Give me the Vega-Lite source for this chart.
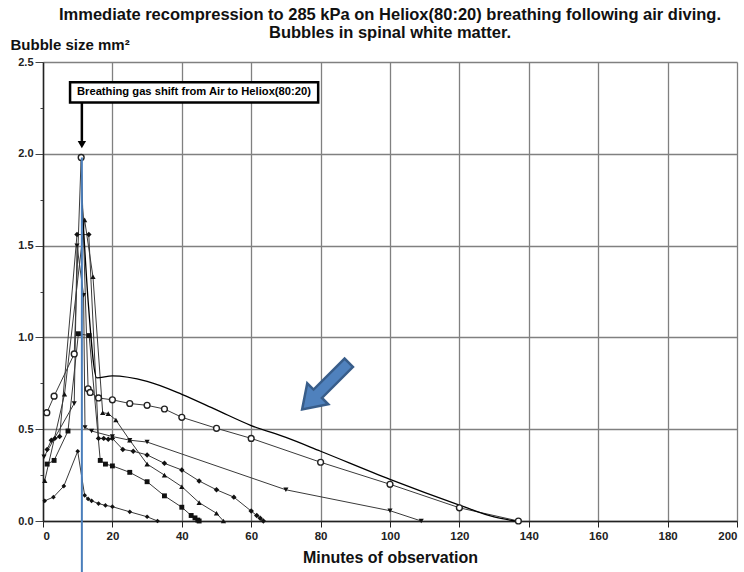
{
  "$schema": "https://vega.github.io/schema/vega-lite/v6.json",
  "width": 694,
  "height": 459,
  "autosize": "none",
  "padding": {"left": 43, "top": 62, "right": 7, "bottom": 51},
  "background": "white",
  "config": {"view": {"stroke": null}, "font": "Liberation Sans"},
  "title": {
    "text": ["Immediate recompression to 285 kPa on Heliox(80:20) breathing following air diving.", "Bubbles in spinal white matter."],
    "font": "Liberation Sans", "fontSize": 16.5, "fontWeight": "bold", "color": "#111",
    "anchor": "middle", "frame": "group", "offset": -4, "lineHeight": 18
  },
  "datasets": {
    "series": [
      {"s": "A", "m": 1.1, "v": 0.59}, {"s": "A", "m": 3.2, "v": 0.68}, {"s": "A", "m": 9, "v": 0.91}, {"s": "A", "m": 11, "v": 1.98},
      {"s": "A", "m": 13, "v": 0.72}, {"s": "A", "m": 13.6, "v": 0.7}, {"s": "A", "m": 16, "v": 0.67}, {"s": "A", "m": 20, "v": 0.66},
      {"s": "A", "m": 25, "v": 0.64}, {"s": "A", "m": 30, "v": 0.63}, {"s": "A", "m": 35, "v": 0.61}, {"s": "A", "m": 40, "v": 0.565},
      {"s": "A", "m": 50, "v": 0.505}, {"s": "A", "m": 60, "v": 0.45}, {"s": "A", "m": 80, "v": 0.32}, {"s": "A", "m": 100, "v": 0.2},
      {"s": "A", "m": 120, "v": 0.072}, {"s": "A", "m": 137, "v": 0},
      {"s": "B", "m": 11.3, "v": 1.72}, {"s": "B", "m": 13, "v": 1.2}, {"s": "B", "m": 15.5, "v": 0.78}, {"s": "B", "m": 20, "v": 0.79},
      {"s": "B", "m": 30, "v": 0.76}, {"s": "B", "m": 40, "v": 0.69}, {"s": "B", "m": 50, "v": 0.605}, {"s": "B", "m": 60, "v": 0.52},
      {"s": "B", "m": 70, "v": 0.455}, {"s": "B", "m": 80, "v": 0.38}, {"s": "B", "m": 100, "v": 0.227}, {"s": "B", "m": 120, "v": 0.087},
      {"s": "B", "m": 130, "v": 0.022}, {"s": "B", "m": 136, "v": 0},
      {"s": "C", "m": 1.2, "v": 0.39}, {"s": "C", "m": 2.4, "v": 0.44}, {"s": "C", "m": 3.4, "v": 0.45}, {"s": "C", "m": 4.8, "v": 0.46},
      {"s": "C", "m": 9.8, "v": 1.56}, {"s": "C", "m": 13.2, "v": 1.56}, {"s": "C", "m": 16, "v": 0.45}, {"s": "C", "m": 17.5, "v": 0.45},
      {"s": "C", "m": 18.8, "v": 0.445}, {"s": "C", "m": 20, "v": 0.45}, {"s": "C", "m": 23, "v": 0.39}, {"s": "C", "m": 26, "v": 0.38},
      {"s": "C", "m": 30, "v": 0.36}, {"s": "C", "m": 35, "v": 0.314}, {"s": "C", "m": 40, "v": 0.278}, {"s": "C", "m": 45, "v": 0.218},
      {"s": "C", "m": 50, "v": 0.17}, {"s": "C", "m": 55, "v": 0.13}, {"s": "C", "m": 60, "v": 0.054}, {"s": "C", "m": 61.6, "v": 0.03},
      {"s": "C", "m": 62.6, "v": 0.015}, {"s": "C", "m": 63.5, "v": 0},
      {"s": "T", "m": 0.5, "v": 0.22}, {"s": "T", "m": 6.2, "v": 0.69}, {"s": "T", "m": 12, "v": 1.64}, {"s": "T", "m": 14.4, "v": 1.33},
      {"s": "T", "m": 17.2, "v": 0.59}, {"s": "T", "m": 18.8, "v": 0.585}, {"s": "T", "m": 21, "v": 0.55}, {"s": "T", "m": 25, "v": 0.44},
      {"s": "T", "m": 30, "v": 0.31}, {"s": "T", "m": 35, "v": 0.25}, {"s": "T", "m": 40, "v": 0.187}, {"s": "T", "m": 45, "v": 0.1},
      {"s": "T", "m": 50, "v": 0.042}, {"s": "T", "m": 52, "v": 0},
      {"s": "V", "m": 0.3, "v": 0.35}, {"s": "V", "m": 9, "v": 0.64}, {"s": "V", "m": 9.8, "v": 1.5}, {"s": "V", "m": 11.7, "v": 1.23},
      {"s": "V", "m": 12.1, "v": 0.51}, {"s": "V", "m": 14, "v": 0.49}, {"s": "V", "m": 20, "v": 0.46}, {"s": "V", "m": 25, "v": 0.44},
      {"s": "V", "m": 30, "v": 0.43}, {"s": "V", "m": 70, "v": 0.17}, {"s": "V", "m": 100, "v": 0.056}, {"s": "V", "m": 109, "v": 0},
      {"s": "S", "m": 1.2, "v": 0.31}, {"s": "S", "m": 3.2, "v": 0.33}, {"s": "S", "m": 7.2, "v": 0.49}, {"s": "S", "m": 10.2, "v": 1.02},
      {"s": "S", "m": 13.3, "v": 1.01}, {"s": "S", "m": 16.5, "v": 0.33}, {"s": "S", "m": 18, "v": 0.31}, {"s": "S", "m": 20, "v": 0.3},
      {"s": "S", "m": 25, "v": 0.265}, {"s": "S", "m": 30, "v": 0.214}, {"s": "S", "m": 35, "v": 0.137}, {"s": "S", "m": 40, "v": 0.075},
      {"s": "S", "m": 42.7, "v": 0.03}, {"s": "S", "m": 43.8, "v": 0.017}, {"s": "S", "m": 44.6, "v": 0.005}, {"s": "S", "m": 45, "v": 0},
      {"s": "D", "m": 0.5, "v": 0.11}, {"s": "D", "m": 3, "v": 0.13}, {"s": "D", "m": 6, "v": 0.19}, {"s": "D", "m": 10, "v": 0.38},
      {"s": "D", "m": 12, "v": 0.14}, {"s": "D", "m": 13, "v": 0.12}, {"s": "D", "m": 14, "v": 0.11}, {"s": "D", "m": 16, "v": 0.095},
      {"s": "D", "m": 18, "v": 0.085}, {"s": "D", "m": 20, "v": 0.078}, {"s": "D", "m": 25, "v": 0.05}, {"s": "D", "m": 30, "v": 0.023},
      {"s": "D", "m": 33, "v": 0}
    ]
  },
  "encoding": {
    "x": {
      "field": "m", "type": "quantitative",
      "scale": {"domain": [0, 200], "nice": false, "zero": false},
      "axis": {
        "values": [0, 20, 40, 60, 80, 100, 120, 140, 160, 180, 200],
        "title": "Minutes of observation",
        "grid": true, "gridColor": "#808080", "gridWidth": 1.3,
        "domainColor": "#222", "domainWidth": 1.5, "tickColor": "#222", "tickSize": 6,
        "labelFont": "Liberation Sans", "labelFontSize": 11.5, "labelFontWeight": "bold", "labelColor": "#222", "labelPadding": 3,
        "titleFont": "Liberation Sans", "titleFontSize": 16, "titleFontWeight": "bold", "titleColor": "#111", "titlePadding": 8
      }
    },
    "y": {
      "field": "v", "type": "quantitative",
      "scale": {"domain": [0, 2.5], "nice": false, "zero": false},
      "axis": {
        "values": [0, 0.25, 0.5, 0.75, 1, 1.25, 1.5, 1.75, 2, 2.25, 2.5],
        "labelExpr": "datum.value % 0.5 === 0 ? format(datum.value, '.1f') : ''",
        "grid": true, "gridColor": "#808080", "gridWidth": 1.3,
        "gridOpacity": {"condition": {"test": "datum.value % 0.5 === 0", "value": 1}, "value": 0},
        "tickSize": {"condition": {"test": "datum.value % 0.5 === 0", "value": 8}, "value": 3},
        "domainColor": "#222", "domainWidth": 1.5, "tickColor": "#444",
        "labelFont": "Liberation Sans", "labelFontSize": 11, "labelFontWeight": "bold", "labelColor": "#222", "labelPadding": 2,
        "title": "Bubble size mm²", "titleAngle": 0, "titleAlign": "left", "titleBaseline": "bottom",
        "titleX": -33, "titleY": -10,
        "titleFont": "Liberation Sans", "titleFontSize": 15, "titleFontWeight": "bold", "titleColor": "#111"
      }
    }
  },
  "layer": [
    {
      "data": {"name": "series"},
      "transform": [{"filter": "datum.s !== 'B'"}],
      "mark": {"type": "line", "color": "#3a3a3a", "strokeWidth": 1},
      "encoding": {"detail": {"field": "s"}, "order": {"field": "m", "type": "quantitative"}}
    },
    {
      "data": {"name": "series"},
      "transform": [{"filter": "datum.s === 'B'"}],
      "mark": {"type": "line", "color": "#000", "strokeWidth": 1.3, "interpolate": "monotone"},
      "encoding": {"order": {"field": "m", "type": "quantitative"}}
    },
    {
      "data": {"name": "series"},
      "transform": [{"filter": "datum.s !== 'A' && datum.s !== 'B'"}],
      "mark": {"type": "point", "filled": true, "color": "#111", "opacity": 1},
      "encoding": {
        "shape": {"field": "s", "type": "nominal", "legend": null,
          "scale": {"domain": ["C", "T", "V", "S", "D"], "range": ["diamond", "triangle-up", "triangle-down", "square", "diamond"]}},
        "size": {"field": "s", "type": "nominal", "legend": null,
          "scale": {"domain": ["C", "T", "V", "S", "D"], "range": [30, 22, 20, 36, 18]}}
      }
    },
    {
      "data": {"name": "series"},
      "transform": [{"filter": "datum.s === 'A'"}],
      "mark": {"type": "point", "shape": "circle", "filled": false, "fill": "white", "fillOpacity": 1, "stroke": "#222", "strokeWidth": 1.4, "size": 34, "opacity": 1}
    },
    {
      "data": {"values": [{"m": 11.2, "v": 1.98, "v2": -0.28}]},
      "mark": {"type": "rule", "color": "#4a7ebb", "strokeWidth": 2},
      "encoding": {"y2": {"field": "v2"}}
    },
    {
      "data": {"values": [{"m": 11.2, "v": 2.28, "v2": 2.07}]},
      "mark": {"type": "rule", "color": "#000", "strokeWidth": 2.5},
      "encoding": {"y2": {"field": "v2"}}
    },
    {
      "data": {"values": [{"m": 11.2, "v": 2.05}]},
      "mark": {"type": "point", "shape": "triangle-down", "filled": true, "color": "#000", "size": 70, "opacity": 1}
    },
    {
      "data": {"values": [{"m": 7.8, "m2": 79.3, "v": 2.39, "v2": 2.28}]},
      "mark": {"type": "rect", "fill": "white", "stroke": "#000", "strokeWidth": 2.5},
      "encoding": {"x2": {"field": "m2"}, "y2": {"field": "v2"}}
    },
    {
      "data": {"values": [{"m": 43.5, "v": 2.335, "label": "Breathing gas shift from Air to Heliox(80:20)"}]},
      "mark": {"type": "text", "font": "Liberation Sans", "fontSize": 11.2, "fontWeight": "bold", "color": "#000", "align": "center", "baseline": "middle"},
      "encoding": {"text": {"field": "label"}}
    },
    {
      "data": {"values": [{"m": 81.4, "v": 0.735}]},
      "mark": {"type": "point", "shape": "M-1,-0.18L0.33,-0.18L0.33,-0.45L1,0L0.33,0.45L0.33,0.18L-1,0.18Z", "angle": 135, "size": 4356, "filled": true, "fill": "#4f81bd", "stroke": "#385d8a", "strokeWidth": 2.5, "opacity": 1, "fillOpacity": 1}
    }
  ]
}
